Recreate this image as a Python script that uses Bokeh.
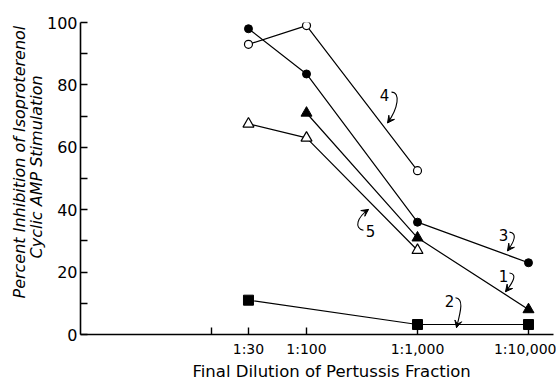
from bokeh.plotting import figure
from bokeh.models import FixedTicker, Title, Arrow, VeeHead, Range1d
from bokeh.embed import file_html
from bokeh.resources import INLINE
from bokeh.core.properties import value

# ---- data (dilution denominators, percent inhibition) ----
x_s1 = [100, 1000, 10000]
y_s1 = [71, 31, 8]            # curve 1, filled triangles
x_s2 = [30, 1000, 10000]
y_s2 = [11, 3.2, 3.2]         # curve 2, filled squares
x_s3 = [30, 100, 1000, 10000]
y_s3 = [98, 83.5, 36, 23]     # curve 3, filled circles
x_s4 = [30, 100, 1000]
y_s4 = [93, 99, 52.5]         # curve 4, open circles
x_s5 = [30, 100, 1000]
y_s5 = [67.5, 63, 27]         # curve 5, open triangles

x_ticks = [14, 30, 100, 1000, 10000]
x_tick_labels = ["", "1:30", "1:100", "1:1,000", "1:10,000"]
y_ticks = [0, 20, 40, 60, 80, 100]
y_minor = [10, 30, 50, 70, 90]

# curve-number annotations
ann_text = ["4", "5", "3", "1", "2"]
ann_x = [504, 377, 5955, 5955, 1943]
ann_y = [76.8, 33.1, 31.9, 18.8, 10.8]
# curly arrows: start, control0, control1, end
arr_x0 = [583, 326, 6743, 6743, 2200]
arr_y0 = [77.7, 33.4, 32.8, 19.7, 11.8]
arr_cx0 = [703, 265, 7960, 7960, 2596]
arr_cy0 = [77.7, 34.1, 32.5, 19.4, 11.5]
arr_cx1 = [674, 288, 7479, 7327, 2491]
arr_cy1 = [72.6, 37.6, 29.9, 16.9, 8.3]
arr_x1 = [537, 362, 6468, 6206, 2246]
arr_y1 = [67.8, 40.1, 26.8, 13.7, 2.2]

FONT = "DejaVu Sans"

p = figure(width=556, height=380, x_axis_type="log",
           x_range=Range1d(0.92, 16800), y_range=Range1d(0, 100),
           output_backend="svg", toolbar_location=None,
           min_border_left=80, min_border_right=3, min_border_top=22, min_border_bottom=44)
p.outline_line_color = None
p.grid.visible = False
p.background_fill_color = "white"

for ax in (p.xaxis[0], p.yaxis[0]):
    ax.axis_line_width = 1.6
    ax.axis_line_color = "black"
    ax.major_tick_in = 7
    ax.major_tick_out = 0
    ax.minor_tick_in = 7
    ax.minor_tick_out = 0
    ax.major_tick_line_width = 1.4
    ax.minor_tick_line_width = 1.4
    ax.major_label_text_font = FONT
    ax.major_label_text_color = "black"

p.xaxis.ticker = FixedTicker(ticks=x_ticks, minor_ticks=[])
p.xaxis.major_label_overrides = {t: l for t, l in zip(x_ticks, x_tick_labels)}
p.xaxis.major_label_text_font_size = "14px"
p.xaxis.major_label_standoff = 6

p.yaxis.ticker = FixedTicker(ticks=y_ticks, minor_ticks=y_minor)
p.yaxis.major_label_text_font_size = "16px"
p.yaxis.major_label_standoff = 3

# lines
for xs, ys in ((x_s1, y_s1), (x_s2, y_s2), (x_s3, y_s3), (x_s4, y_s4), (x_s5, y_s5)):
    p.line(xs, ys, line_color="black", line_width=1.2)

# markers
p.scatter(x_s1, y_s1, marker="triangle", size=11, fill_color="black", line_color="black")
p.scatter(x_s2, y_s2, marker="square", size=10, fill_color="black", line_color="black")
p.scatter(x_s3, y_s3, marker="circle", size=8, fill_color="black", line_color="black")
p.scatter(x_s4, y_s4, marker="circle", size=8, fill_color="white", line_color="black", line_width=1.2)
p.scatter(x_s5, y_s5, marker="triangle", size=11, fill_color="white", line_color="black", line_width=1.2)

# annotations
p.text(ann_x, ann_y, text=ann_text, text_font=value(FONT), text_font_size="15px",
       text_align="center", text_baseline="middle", text_color="black")
p.bezier(x0=arr_x0, y0=arr_y0, x1=arr_x1, y1=arr_y1, cx0=arr_cx0, cy0=arr_cy0,
         cx1=arr_cx1, cy1=arr_cy1, line_color="black", line_width=1.1)
for xs, ys, xe, ye in zip(arr_cx1, arr_cy1, arr_x1, arr_y1):
    p.add_layout(Arrow(x_start=xs, y_start=ys, x_end=xe, y_end=ye, line_alpha=0,
                       end=VeeHead(size=7, fill_color="black", line_color="black")))

# axis titles
p.add_layout(Title(text="Final Dilution of Pertussis Fraction", align="left", offset=112,
                   text_font=FONT, text_font_size="16.5px", text_font_style="normal",
                   text_color="black", standoff=0), "below")
p.add_layout(Title(text="Cyclic AMP Stimulation", align="left", offset=76,
                   text_font=FONT, text_font_size="16px", text_font_style="italic",
                   text_color="black", standoff=-4), "left")
p.add_layout(Title(text="Percent Inhibition of Isoproterenol", align="left", offset=36,
                   text_font=FONT, text_font_size="16px", text_font_style="italic",
                   text_color="black", standoff=-4), "left")

open("out.html", "w").write(file_html(p, INLINE))
